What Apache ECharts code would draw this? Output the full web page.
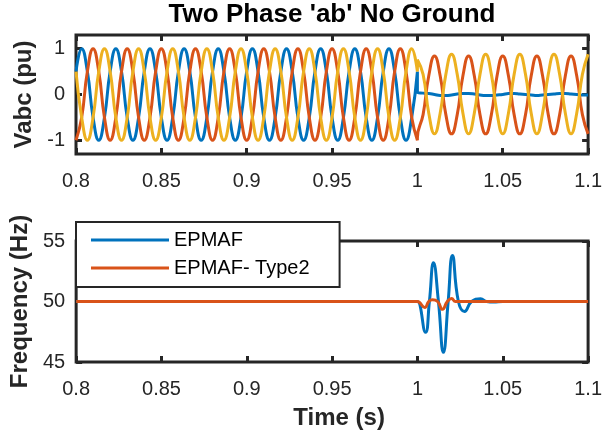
<!DOCTYPE html>
<html>
<head>
<meta charset="utf-8">
<script src="https://cdn.jsdelivr.net/npm/echarts@6/dist/echarts.min.js"></script>
<style>
html, body { margin: 0; padding: 0; background: #fff; }
#chart { width: 605px; height: 432px; }
</style>
</head>
<body>
<div id="chart"></div>
<script>
// sample step of the voltage traces (s)
var DT = 1 / 300;

// phase voltages before the fault, 0.8 .. 1.0 s
var vaPre = [
	0.5, 1, 0.5, -0.5, -1, -0.5,
	0.5, 1, 0.5, -0.5, -1, -0.5,
	0.5, 1, 0.5, -0.5, -1, -0.5,
	0.5, 1, 0.5, -0.5, -1, -0.5,
	0.5, 1, 0.5, -0.5, -1, -0.5,
	0.5, 1, 0.5, -0.5, -1, -0.5,
	0.5, 1, 0.5, -0.5, -1, -0.5,
	0.5, 1, 0.5, -0.5, -1, -0.5,
	0.5, 1, 0.5, -0.5, -1, -0.5,
	0.5, 1, 0.5, -0.5, -1, -0.5,
	0.5
];
var vbPre = [
	-1, -0.5, 0.5, 1, 0.5, -0.5,
	-1, -0.5, 0.5, 1, 0.5, -0.5,
	-1, -0.5, 0.5, 1, 0.5, -0.5,
	-1, -0.5, 0.5, 1, 0.5, -0.5,
	-1, -0.5, 0.5, 1, 0.5, -0.5,
	-1, -0.5, 0.5, 1, 0.5, -0.5,
	-1, -0.5, 0.5, 1, 0.5, -0.5,
	-1, -0.5, 0.5, 1, 0.5, -0.5,
	-1, -0.5, 0.5, 1, 0.5, -0.5,
	-1, -0.5, 0.5, 1, 0.5, -0.5,
	-1
];
var vcPre = [
	0.5, -0.5, -1, -0.5, 0.5, 1,
	0.5, -0.5, -1, -0.5, 0.5, 1,
	0.5, -0.5, -1, -0.5, 0.5, 1,
	0.5, -0.5, -1, -0.5, 0.5, 1,
	0.5, -0.5, -1, -0.5, 0.5, 1,
	0.5, -0.5, -1, -0.5, 0.5, 1,
	0.5, -0.5, -1, -0.5, 0.5, 1,
	0.5, -0.5, -1, -0.5, 0.5, 1,
	0.5, -0.5, -1, -0.5, 0.5, 1,
	0.5, -0.5, -1, -0.5, 0.5, 1,
	0.5
];

// phase voltages after the fault, 1.0 .. 1.1 s
var vaPost = [
	0.05, 0.03, 0.02, 0.0, -0.02, -0.02, -0.01, 0.01, 0.02, 0.02, 0.01,
	-0.01, -0.02, -0.02, -0.01, 0.0, 0.02, 0.02, 0.01, 0.0, -0.01,
	-0.02, -0.01, 0.0, 0.01, 0.02, 0.02, 0.01, 0.0, -0.01, -0.01
];
var vbPost = [
	-0.95, -0.44, 0.41, 0.84, 0.41, -0.44,
	-0.86, -0.44, 0.41, 0.84, 0.41, -0.44,
	-0.86, -0.44, 0.41, 0.84, 0.41, -0.44,
	-0.86, -0.44, 0.41, 0.84, 0.41, -0.44,
	-0.86, -0.44, 0.41, 0.84, 0.41, -0.44,
	-0.86
];
var vcPost = [
	0.76, 0.44, -0.41, -0.86, -0.41, 0.44,
	0.88, 0.44, -0.41, -0.86, -0.41, 0.44,
	0.88, 0.44, -0.41, -0.86, -0.41, 0.44,
	0.88, 0.44, -0.41, -0.86, -0.41, 0.44,
	0.88, 0.44, -0.41, -0.86, -0.41, 0.44,
	0.88
];

// frequency estimates
var freqTimeA = [0.8, 0.999, 1.0, 1.0047, 1.007, 1.0094, 1.0123, 1.0152, 1.018, 1.0205, 1.024, 1.0276, 1.0317, 1.037, 1.0405, 1.0446, 1.05, 1.055, 1.1];
var freqA     = [50, 50, 50, 47.45, 50, 53.2, 50, 45.8, 50, 53.8, 50, 49.17, 50, 50.22, 50, 49.95, 50, 50, 50];
var freqTimeB = [0.8, 0.999, 1.0, 1.0043, 1.0066, 1.0088, 1.0118, 1.0147, 1.0175, 1.02, 1.0223, 1.026, 1.1];
var freqB     = [50, 50, 50, 49.5, 50, 50.15, 50, 49.35, 50, 50.25, 50, 50, 50];

var voltTicks = [-1, 0, 1];

var FONT = "'Liberation Sans', Arial, Helvetica, sans-serif";
var INK = '#262626';

function samples(t0, vals){
	return vals.map(function(v, i){ return [t0 + i * DT, v]; });
}
function pairs(ts, vs){
	return ts.map(function(t, i){ return [t, vs[i]]; });
}

function xAxisOf(grid, pos, withLabels){
	return {
		type: 'value', gridIndex: grid, position: pos,
		min: 0.8, max: 1.1, interval: 0.05,
		axisLine: {show: false, onZero: false},
		axisTick: {show: true, inside: true, length: 6, lineStyle: {color: INK, width: 3}},
		axisLabel: {show: withLabels, fontSize: 20, color: INK, fontFamily: FONT, margin: 17},
		splitLine: {show: false}
	};
}

function chart_two_phase(){
	var chart = echarts.init(document.getElementById('chart'));
	var timeAxis = xAxisOf(1, 'bottom', true);
	timeAxis.name = 'Time (s)';
	timeAxis.nameLocation = 'middle';
	timeAxis.nameGap = 44;
	timeAxis.nameTextStyle = {fontSize: 24, fontWeight: 'bold', color: INK, fontFamily: FONT, padding: [0, 0, 0, 14]};

	var option = {
		animation: false,
		backgroundColor: '#fff',
		title: {
			text: "Two Phase 'ab' No Ground",
			left: 332, top: 2, textAlign: 'center', padding: 0,
			textStyle: {fontSize: 26, fontWeight: 'bold', color: '#000', fontFamily: FONT}
		},
		legend: {
			data: ['EPMAF', 'EPMAF- Type2'],
			orient: 'vertical', left: 76, top: 222,
			icon: 'rect', itemWidth: 78, itemHeight: 3, itemGap: 8,
			padding: [8, 30, 9, 15],
			backgroundColor: '#fff', borderColor: INK, borderWidth: 2,
			textStyle: {fontSize: 20, color: '#000', fontFamily: FONT}
		},
		grid: [
			{left: 76, top: 35, width: 513, height: 119, show: true, borderColor: INK, borderWidth: 3, backgroundColor: '#fff'},
			{left: 76, top: 241, width: 513, height: 121, show: true, borderColor: INK, borderWidth: 3, backgroundColor: '#fff'}
		],
		xAxis: [
			xAxisOf(0, 'bottom', true),
			xAxisOf(0, 'top', false),
			timeAxis,
			xAxisOf(1, 'top', false)
		],
		yAxis: [
			{
				type: 'value', gridIndex: 0, position: 'left', min: -1.3, max: 1.3,
				name: 'Vabc (pu)', nameLocation: 'middle', nameGap: 39,
				nameTextStyle: {fontSize: 24, fontWeight: 'bold', color: INK, fontFamily: FONT},
				axisLine: {show: false, onZero: false},
				axisTick: {show: true, inside: true, length: 6, customValues: voltTicks, lineStyle: {color: INK, width: 3}},
				axisLabel: {fontSize: 20, color: INK, fontFamily: FONT, margin: 11, customValues: voltTicks},
				splitLine: {show: false}
			},
			{
				type: 'value', gridIndex: 0, position: 'right', min: -1.3, max: 1.3,
				axisLine: {show: false, onZero: false},
				axisTick: {show: true, inside: true, length: 6, customValues: voltTicks, lineStyle: {color: INK, width: 3}},
				axisLabel: {show: false},
				splitLine: {show: false}
			},
			{
				type: 'value', gridIndex: 1, position: 'left', min: 45, max: 55, interval: 5,
				name: 'Frequency (Hz)', nameLocation: 'middle', nameGap: 43,
				nameTextStyle: {fontSize: 24, fontWeight: 'bold', color: INK, fontFamily: FONT},
				axisLine: {show: false, onZero: false},
				axisTick: {show: true, inside: true, length: 6, lineStyle: {color: INK, width: 3}},
				axisLabel: {fontSize: 20, color: INK, fontFamily: FONT, margin: 11},
				splitLine: {show: false}
			},
			{
				type: 'value', gridIndex: 1, position: 'right', min: 45, max: 55, interval: 5,
				axisLine: {show: false, onZero: false},
				axisTick: {show: true, inside: true, length: 6, lineStyle: {color: INK, width: 3}},
				axisLabel: {show: false},
				splitLine: {show: false}
			}
		],
		series: [
			{
				name: 'Va', type: 'line', xAxisIndex: 0, yAxisIndex: 0,
				showSymbol: false, smooth: 0.5, color: '#0072BD',
				lineStyle: {width: 3},
				data: samples(0.8, vaPre).concat(samples(1.0, vaPost))
			},
			{
				name: 'Vb', type: 'line', xAxisIndex: 0, yAxisIndex: 0,
				showSymbol: false, smooth: 0.5, color: '#D95319',
				lineStyle: {width: 3},
				data: samples(0.8, vbPre).concat(samples(1.0, vbPost))
			},
			{
				name: 'Vc', type: 'line', xAxisIndex: 0, yAxisIndex: 0,
				showSymbol: false, smooth: 0.5, color: '#EDB120',
				lineStyle: {width: 3},
				data: samples(0.8, vcPre).concat(samples(1.0, vcPost))
			},
			{
				name: 'EPMAF', type: 'line', xAxisIndex: 2, yAxisIndex: 2,
				showSymbol: false, smooth: 0.5, color: '#0072BD',
				lineStyle: {width: 3},
				data: pairs(freqTimeA, freqA)
			},
			{
				name: 'EPMAF- Type2', type: 'line', xAxisIndex: 2, yAxisIndex: 2,
				showSymbol: false, smooth: 0.5, color: '#D95319',
				lineStyle: {width: 3},
				data: pairs(freqTimeB, freqB)
			}
		]
	};
	chart.setOption(option);
	window.addEventListener("resize",function(){
		chart.resize();
	});
}

chart_two_phase();
</script>
</body>
</html>
